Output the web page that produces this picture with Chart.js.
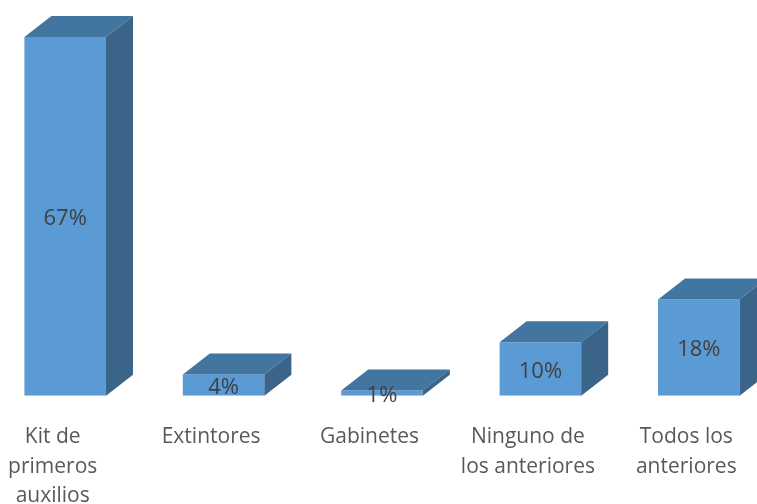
<!DOCTYPE html>
<html>
<head>
<meta charset="utf-8">
<style>
  html, body { margin: 0; padding: 0; background: #fff; overflow: hidden; width: 757px; height: 504px; }
  canvas { position: absolute; left: -14px; top: 0; }
</style>
<script src="https://cdn.jsdelivr.net/npm/chart.js@4/dist/chart.umd.min.js"></script>
</head>
<body>
<canvas id="chart" width="792" height="538"></canvas>
<script>
const categories = [
  ['Kit de', 'primeros', 'auxilios'],
  'Extintores',
  'Gabinetes',
  ['Ninguno de', 'los anteriores'],
  ['Todos los', 'anteriores']
];
const values = [67, 4, 1, 10, 18];

const FONT = '"Open Sans", sans-serif';

// fake 3D box: top and side faces, then the % labels
const box3d = {
  id: 'box3d',
  afterDatasetsDraw(chart) {
    const ctx = chart.ctx;
    const dx = 27, dy = 21;
    ctx.save();
    chart.getDatasetMeta(0).data.forEach((bar, i) => {
      const left = bar.x - bar.width / 2;
      const right = bar.x + bar.width / 2;

      ctx.fillStyle = '#4375A1';
      ctx.beginPath();
      ctx.moveTo(left, bar.y);
      ctx.lineTo(left + dx, bar.y - dy);
      ctx.lineTo(right + dx, bar.y - dy);
      ctx.lineTo(right, bar.y);
      ctx.closePath();
      ctx.fill();

      ctx.fillStyle = '#3A6488';
      ctx.beginPath();
      ctx.moveTo(right, bar.y);
      ctx.lineTo(right + dx, bar.y - dy);
      ctx.lineTo(right + dx, bar.base - dy);
      ctx.lineTo(right, bar.base);
      ctx.closePath();
      ctx.fill();

      ctx.fillStyle = '#404040';
      ctx.font = '22px ' + FONT;
      ctx.textAlign = 'center';
      ctx.textBaseline = 'middle';
      ctx.fillText(values[i] + '%', bar.x, (bar.y + bar.base) / 2 + 2.5);
    });
    ctx.restore();
  }
};

new Chart(document.getElementById('chart'), {
  type: 'bar',
  data: {
    labels: categories,
    datasets: [{
      data: values,
      backgroundColor: '#5B9BD5',
      borderWidth: 0,
      barPercentage: 0.515,
      categoryPercentage: 1
    }]
  },
  options: {
    animation: false,
    responsive: false,
    layout: { padding: { top: 21, bottom: 0, left: 0, right: 0 } },
    plugins: { legend: { display: false }, tooltip: { enabled: false } },
    scales: {
      x: {
        grid: { display: false, drawTicks: false },
        border: { display: false },
        ticks: {
          color: '#595959',
          font: { family: FONT, size: 21, lineHeight: 1.4 },
          labelOffset: -12.5,
          maxRotation: 0,
          autoSkip: false,
          padding: 27
        }
      },
      y: { display: false, min: 0, max: 70 }
    }
  },
  plugins: [box3d]
});
</script>
</body>
</html>
